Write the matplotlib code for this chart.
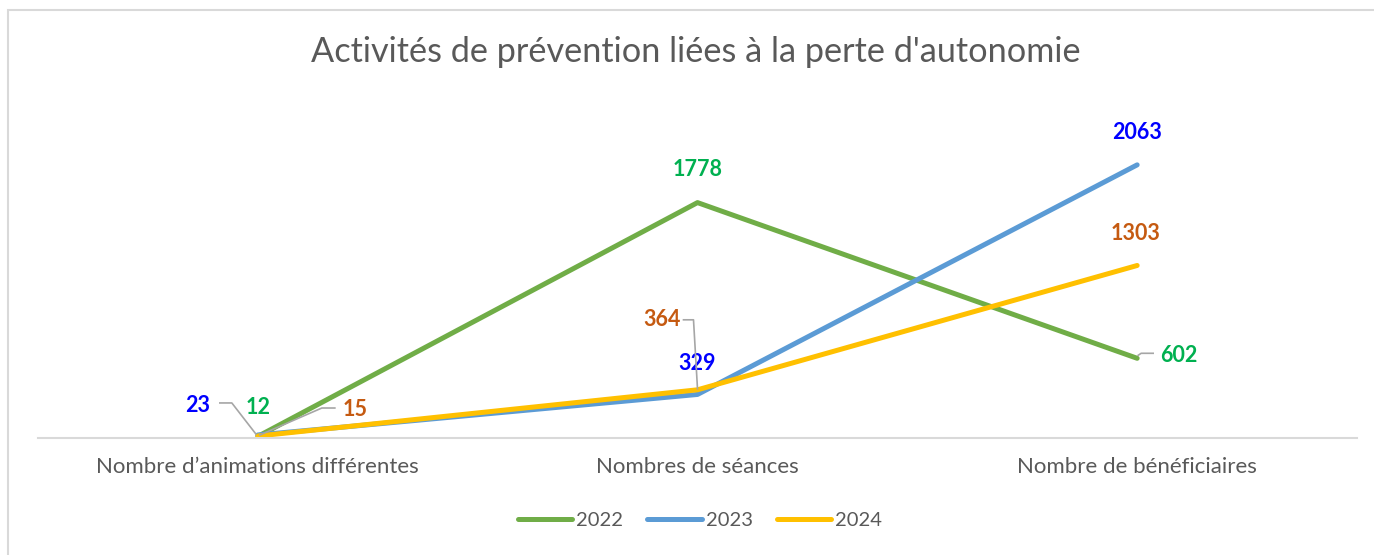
import numpy as np
import matplotlib.pyplot as plt
from matplotlib.lines import Line2D
from matplotlib.patches import Rectangle

plt.rcParams['font.family'] = ['Lato', 'DejaVu Sans']

# data
categories = ['Nombre d\u2019animations différentes', 'Nombres de séances', 'Nombre de bénéficiaires']
years = ['2022', '2023', '2024']
v2022 = [12, 1778, 602]
v2023 = [23, 329, 2063]
v2024 = [15, 364, 1303]
series = [v2022, v2023, v2024]

line_colors = ['#70AD47', '#5B9BD5', '#FFC000']
label_colors = ['#00B050', '#0000FF', '#C55A11']
leader_color = '#A6A6A6'

# label placement: (series, index) -> text offset (px, y up), leader vertices (px, relative to point)
label_pos = {
    (0, 0): ((0, 29), None),
    (1, 0): ((-60, 29), [(-38, 32), (-26, 32), (-2, 1)]),
    (2, 0): ((97, 27), [(77, 28), (64, 28), (2, 1)]),
    (0, 1): ((0, 33), None),
    (1, 1): ((0, 31), None),
    (2, 1): ((-35, 70), [(-14, 70), (-4, 70), (0, 1)]),
    (0, 2): ((42, 3), [(1, 3), (4, 5), (16, 5)]),
    (1, 2): ((0, 32), None),
    (2, 2): ((-2, 32), None),
}

W, H = 1374, 555
fig = plt.figure(figsize=(W / 100, H / 100), dpi=100)
ax = fig.add_axes([38 / W, 1 - 438 / H, 1319 / W, 331 / H])

x = np.arange(len(categories))
for vals, c, yr in zip(series, line_colors, years):
    ax.plot(x, vals, color=c, lw=3.6, solid_capstyle='round', label=yr)

ax.set_xlim(-0.5, 2.5)
ax.set_ylim(0, 2500)
ax.set_xticks(x)
ax.set_xticklabels(categories, fontsize=16, color='#595959')
ax.tick_params(axis='x', length=0, pad=14)
ax.set_yticks([])
for s in ['top', 'left', 'right']:
    ax.spines[s].set_visible(False)
ax.spines['bottom'].set_color('#D9D9D9')
ax.spines['bottom'].set_linewidth(1.5)

# data labels with leader lines
fig.canvas.draw()
for (si, idx), (off, leader) in label_pos.items():
    val = series[si][idx]
    px, py = ax.transData.transform((x[idx], val))
    ax.annotate(str(val), xy=(x[idx], val), xytext=(off[0] * 0.72, off[1] * 0.72),
                textcoords='offset points', ha='center', va='center',
                fontsize=15.5, fontweight='bold', color=label_colors[si], zorder=5)
    if leader:
        xs = [px + dx for dx, dy in leader]
        ys = [py + dy for dx, dy in leader]
        fig.add_artist(Line2D(xs, ys, transform=None, color=leader_color, lw=1.2, zorder=1))

fig.text(696 / W, 1 - 52 / H, "Activités de prévention liées à la perte d'autonomie",
         ha='center', va='center', fontsize=24.7, color='#595959')

leg = fig.legend(loc='center', bbox_to_anchor=(700 / W, 1 - 520 / H), ncol=3, frameon=False,
                 fontsize=14.5, handlelength=2.7, handletextpad=0.2, columnspacing=1.2)
for t in leg.get_texts():
    t.set_color('#595959')

fig.add_artist(Rectangle((8 / W, -0.1), 1.2, 1 - 10 / H + 0.1, transform=fig.transFigure,
                         fill=False, edgecolor='#D9D9D9', lw=1.5))

fig.savefig('out.png', dpi=100)
